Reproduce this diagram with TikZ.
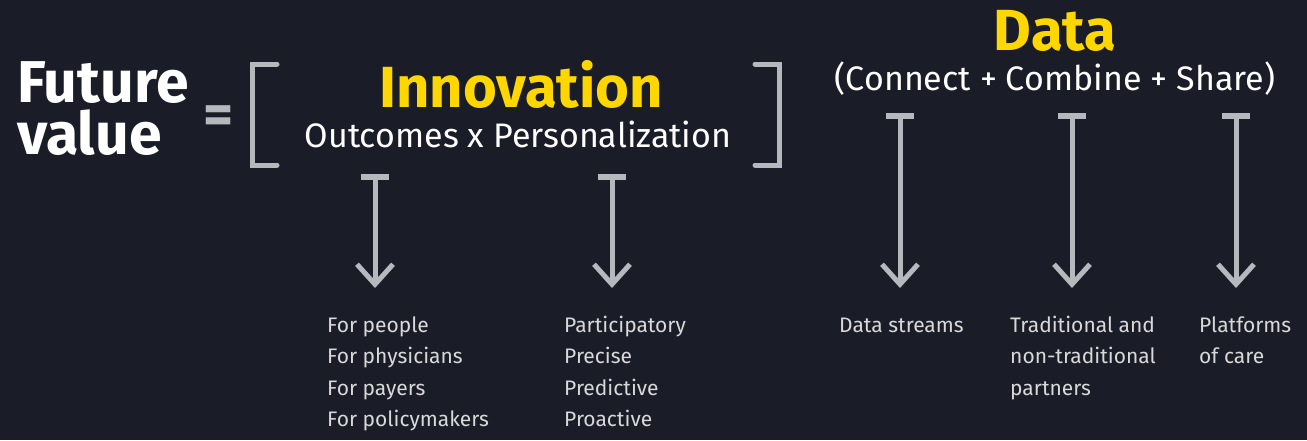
\documentclass[tikz,border=0pt]{standalone}
\usepackage{fontspec}
\setmainfont{Fira Sans}
\usepackage{tikz}
\usetikzlibrary{positioning,arrows.meta}

\definecolor{bgnavy}{HTML}{1A1D28}
\definecolor{eyyellow}{HTML}{FFD700}
\definecolor{arrgray}{HTML}{B5B9BD}
\definecolor{lblgray}{HTML}{D9D9D9}

\begin{document}
\begin{tikzpicture}[x=1pt, y=-1pt,
bigword/.style={inner sep=0, font=\bfseries\fontsize{58}{50}\selectfont},
subline/.style={inner sep=0, text=white, font=\fontsize{34}{38}\selectfont},
listnode/.style={inner sep=0, anchor=north west, align=left, text=lblgray, font=\fontsize{21}{31.5}\selectfont},
barrow/.style={draw=arrgray, line width=5pt, {Bar[width=28pt,line width=6pt]}-{Straight Barb[length=20pt,width=36pt,line width=5pt]}},
bracket/.style={draw=arrgray, line width=5pt, line cap=round}
]
    \fill[bgnavy] (0,0) rectangle (1307,440);
    \useasboundingbox (0,0) rectangle (1307,440);

    %Nodes
    \node[bigword, text=white, anchor=base west, font=\bfseries\fontsize{59}{50}\selectfont]
        (fut) at (17,102)   {Future};
    \node[bigword, text=white, anchor=base west, font=\bfseries\fontsize{59}{50}\selectfont]
        (val) at (17,154)   {value};
    \node[bigword, text=arrgray, anchor=center]
        (eq) at (219,120)   {=};
    \node[bigword, text=eyyellow, anchor=base]
        (inno) at (521,107) {Innovation};
    \node[subline, anchor=base]
        (outc) at (518,147) {Outcomes x Personalization};
    \node[bigword, text=eyyellow, anchor=base]
        (dat) at (1055,50)  {Data};
    \node[subline, anchor=base]
        (ccs) at (1055,90)  {(Connect + Combine + Share)};

    \node[listnode] (l1) at (327,310)  {\strut For people\\For physicians\\For payers\\For policymakers};
    \node[listnode] (l2) at (564,310)  {\strut Participatory\\Precise\\Predictive\\Proactive};
    \node[listnode] (l3) at (839,310)  {\strut Data streams};
    \node[listnode] (l4) at (1010,310) {\strut Traditional and\\non-traditional\\partners};
    \node[listnode] (l5) at (1199,310) {\strut Platforms\\of care};

    %Brackets
    \draw[bracket] (277,64) -- (252,64) -- (252,165) -- (277,165);
    \draw[bracket] (755,64) -- (779,64) -- (779,165) -- (755,165);

    %Arrows
    \coordinate (t1) at (375,174);
    \coordinate (t2) at (612,174);
    \coordinate (t3) at (900,113);
    \coordinate (t4) at (1072,113);
    \coordinate (t5) at (1236,113);
    \foreach \i in {1,...,5}
        \draw[barrow] (t\i) -- ([yshift=22pt]t\i |- l\i.north);
\end{tikzpicture}
\end{document}
